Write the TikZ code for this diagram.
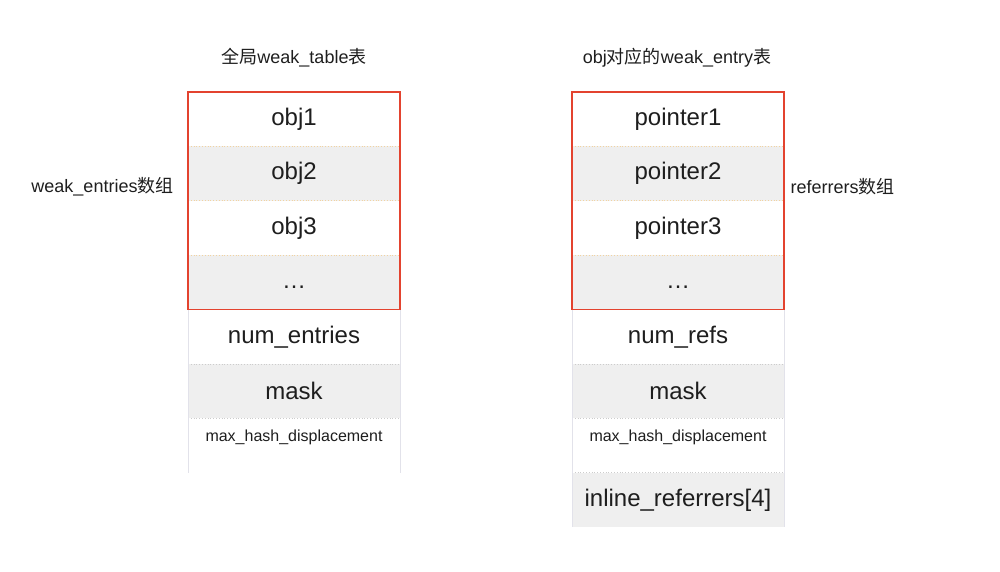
\documentclass[tikz,border=0pt]{standalone}
\usepackage{fontspec}
\setmainfont{Liberation Sans}
\newfontfamily\cjk{Noto Sans CJK SC}
\definecolor{cellgray}{HTML}{EFEFEF}
\definecolor{redline}{HTML}{E3432F}
\definecolor{sepin}{HTML}{F2D3A1}
\definecolor{sepout}{HTML}{CCCCCC}
\definecolor{sideline}{HTML}{E2E2EA}
\definecolor{txt}{HTML}{1E1E1E}
\begin{document}
\begin{tikzpicture}[x=1pt,y=-1pt,
  cell/.style={minimum width=212pt, minimum height=54.4pt, inner sep=0pt, outer sep=0pt, anchor=north west, font=\fontsize{24}{28}\selectfont, text=txt},
  wcell/.style={cell, fill=white},
  gcell/.style={cell, fill=cellgray},
  big/.style={font=\fontsize{24}{28}\selectfont, text=txt, inner sep=0pt},
  small/.style={font=\fontsize{16}{19}\selectfont, text=txt, inner sep=0pt},
  title/.style={font=\fontsize{18}{21}\selectfont, text=txt, inner sep=0pt},
  sepinner/.style={draw=sepin, line width=0.8pt, dotted},
  sepouter/.style={draw=sepout, line width=0.8pt, dotted},
  redbox/.style={draw=redline, line width=1.5pt},
  sidebar/.style={draw=sideline, line width=1pt}]
\useasboundingbox (0,0) rectangle (1000,572);
% left table
\node[wcell] (L1) at (188,92) {obj1};
\node[gcell] (L2) at (188,146.4) {obj2};
\node[wcell] (L3) at (188,200.8) {obj3};
\node[gcell] (L4) at (188,255.2) {};
\node[big] (L4t) at ([yshift=-5pt]L4.center) {…};
\node[wcell] (L5) at (188,309.6) {num\_entries};
\node[gcell] (L6) at (188,364) {mask};
\node[wcell] (L7) at (188,418.4) {};
\node[small] (L7t) at ([yshift=-19pt]L7.north) {max\_hash\_displacement};
% right table
\node[wcell] (R1) at (572,92) {pointer1};
\node[gcell] (R2) at (572,146.4) {pointer2};
\node[wcell] (R3) at (572,200.8) {pointer3};
\node[gcell] (R4) at (572,255.2) {};
\node[big] (R4t) at ([yshift=-5pt]R4.center) {…};
\node[wcell] (R5) at (572,309.6) {num\_refs};
\node[gcell] (R6) at (572,364) {mask};
\node[wcell] (R7) at (572,418.4) {};
\node[small] (R7t) at ([yshift=-19pt]R7.north) {max\_hash\_displacement};
\node[gcell] (R8) at (572,472.8) {inline\_referrers[4]};
% separators
\foreach \n in {L1,L2,L3,R1,R2,R3}
  \draw[sepinner] (\n.south west) -- (\n.south east);
\foreach \n in {L5,L6,R5,R6,R7}
  \draw[sepouter] (\n.south west) -- (\n.south east);
% side lines
\draw[sidebar] (L5.north west) -- (L7.south west);
\draw[sidebar] (L5.north east) -- (L7.south east);
\draw[sidebar] (R5.north west) -- (R8.south west);
\draw[sidebar] (R5.north east) -- (R8.south east);
% red boxes
\draw[redbox] (L1.north west) rectangle (L4.south east);
\draw[redbox] (R1.north west) rectangle (R4.south east);
% titles
\node[title] (T1) at (294,58) {{\cjk 全局}weak\_table{\cjk 表}};
\node[title] (T2) at (677,58) {obj{\cjk 对应的}weak\_entry{\cjk 表}};
\node[title] (S1) at (102.5,187) {weak\_entries{\cjk 数组}};
\node[title] (S2) at (842.5,187) {referrers{\cjk 数组}};
\end{tikzpicture}
\end{document}
